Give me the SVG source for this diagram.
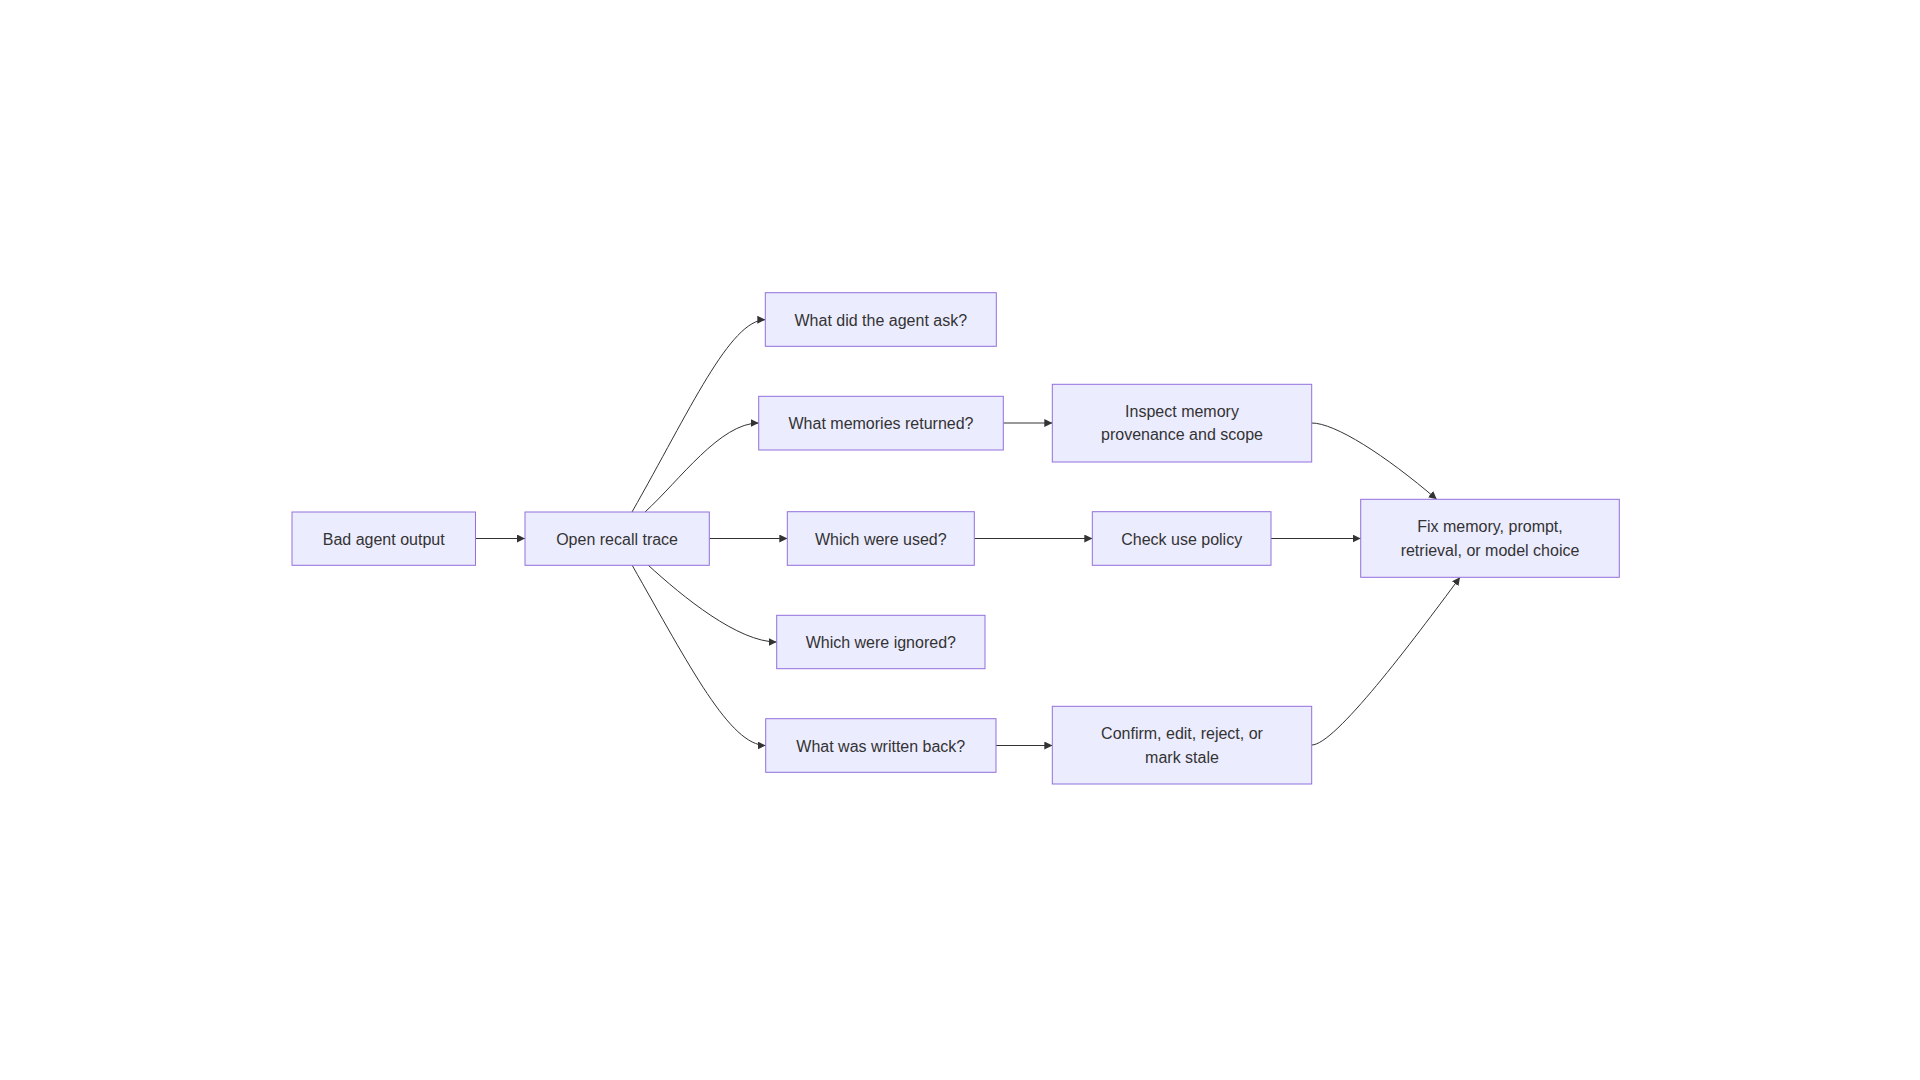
<svg xmlns="http://www.w3.org/2000/svg" width="1920" height="1080" viewBox="0 0 1920 1080">
<style>
.node rect{fill:#ECECFF;stroke:#9370DB;stroke-width:1px;}
.node text{font-family:"Trebuchet MS","Liberation Sans",Arial,sans-serif;font-size:16px;fill:#333333;text-anchor:middle;}
.edge{fill:none;stroke:#333333;stroke-width:1px;marker-end:url(#arrow);}
</style>
<defs>
<marker id="arrow" viewBox="0 0 10 10" refX="10" refY="5" markerUnits="userSpaceOnUse" markerWidth="8" markerHeight="8" orient="auto">
<path d="M0,0 L10,5 L0,10 z" fill="#333333"/>
</marker>
</defs>
<rect width="1920" height="1080" fill="#ffffff"/>
<g id="connectors">
<path class="edge" d="M475.5,538.5 L525,538.5"/>
<path class="edge" d="M632,512 C690,410 730,320 765.3,319.7"/>
<path class="edge" d="M645,512 C680,480 720,423 758.7,423"/>
<path class="edge" d="M709.3,538.5 L787.3,538.5"/>
<path class="edge" d="M648,565 C683,597 738,642 776.7,642"/>
<path class="edge" d="M632,565 C690,667 730,745.5 765.7,745.5"/>
<path class="edge" d="M1003.3,423 L1052.3,423"/>
<path class="edge" d="M974.3,538.5 L1092.3,538.5"/>
<path class="edge" d="M996,745.5 L1052.3,745.5"/>
<path class="edge" d="M1271,538.5 L1360.7,538.5"/>
<path class="edge" d="M1311.7,423 C1335,423 1385,455 1436.7,499.3"/>
<path class="edge" d="M1311.7,745 C1335,745 1412,642 1460,577.3"/>
</g>
<g id="n-bad" class="node"><rect x="292" y="512" width="183.5" height="53.3"/><text x="383.7" y="544.5">Bad agent output</text></g>
<g id="n-open" class="node"><rect x="525" y="512" width="184.3" height="53.3"/><text x="617.1" y="544.5">Open recall trace</text></g>
<g id="n-ask" class="node"><rect x="765.3" y="292.7" width="231" height="53.6"/><text x="880.8" y="325.5">What did the agent ask?</text></g>
<g id="n-returned" class="node"><rect x="758.7" y="396.3" width="244.6" height="53.7"/><text x="881" y="429">What memories returned?</text></g>
<g id="n-used" class="node"><rect x="787.3" y="511.7" width="187" height="53.6"/><text x="880.8" y="544.5">Which were used?</text></g>
<g id="n-ignored" class="node"><rect x="776.7" y="615.3" width="208.3" height="53.4"/><text x="880.8" y="648">Which were ignored?</text></g>
<g id="n-written" class="node"><rect x="765.7" y="718.7" width="230.3" height="53.6"/><text x="880.8" y="751.5">What was written back?</text></g>
<g id="n-inspect" class="node"><rect x="1052.3" y="384.3" width="259.4" height="77.7"/><text x="1182" y="416.5">Inspect memory</text><text x="1182" y="440">provenance and scope</text></g>
<g id="n-check" class="node"><rect x="1092.3" y="511.7" width="178.7" height="53.6"/><text x="1181.7" y="544.5">Check use policy</text></g>
<g id="n-confirm" class="node"><rect x="1052.3" y="706.3" width="259.4" height="77.7"/><text x="1182" y="739">Confirm, edit, reject, or</text><text x="1182" y="762.5">mark stale</text></g>
<g id="n-fix" class="node"><rect x="1360.7" y="499.3" width="258.6" height="78"/><text x="1490" y="532">Fix memory, prompt,</text><text x="1490" y="556">retrieval, or model choice</text></g>
</svg>
